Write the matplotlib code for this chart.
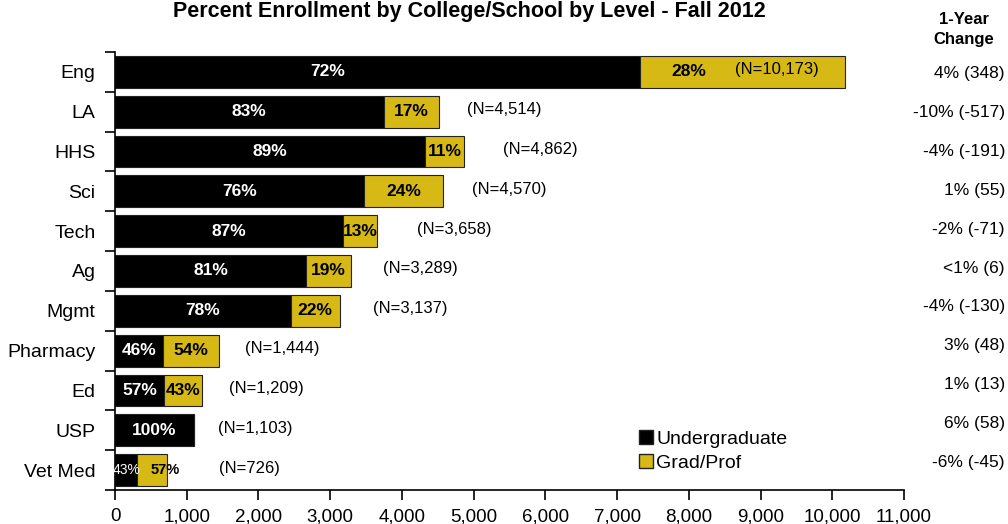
import matplotlib.pyplot as plt
import matplotlib.transforms as mtransforms
from matplotlib.lines import Line2D
import numpy as np

plt.rcParams['font.family'] = ['Liberation Sans', 'DejaVu Sans']

# data
colleges = ['Eng', 'LA', 'HHS', 'Sci', 'Tech', 'Ag', 'Mgmt', 'Pharmacy', 'Ed', 'USP', 'Vet Med']
totals = [10173, 4514, 4862, 4570, 3658, 3289, 3137, 1444, 1209, 1103, 726]
ug_pct = [72, 83, 89, 76, 87, 81, 78, 46, 57, 100, 43]
grad_pct = [28, 17, 11, 24, 13, 19, 22, 54, 43, 0, 57]
change = ['4% (348)', '-10% (-517)', '-4% (-191)', '1% (55)', '-2% (-71)', '<1% (6)',
          '-4% (-130)', '3% (48)', '1% (13)', '6% (58)', '-6% (-45)']

# where the (N=...) labels sit, relative to the bar end (data units)
n_shift = [-1526, 395, 550, 409, 554, 449, 461, 369, 381, 334, 724]

gold = '#D6B914'

totals = np.array(totals)
ug = totals * np.array(ug_pct) / 100
grad = totals - ug
y = np.arange(len(colleges))

fig = plt.figure(figsize=(10.08, 5.24), dpi=100)
ax = fig.add_axes([0.1141, 0.0649, 0.7827, 0.8359])

ax.barh(y, ug, height=0.8, color='black', edgecolor='#222222', linewidth=0.8)
ax.barh(y, grad, left=ug, height=0.8, color=gold, edgecolor='#222222', linewidth=0.8)

ax.set_xlim(0, 11000)
ax.set_ylim(10.5, -0.5)

right_col = mtransforms.blended_transform_factory(fig.transFigure, ax.transData)

for i in range(len(colleges)):
    small = totals[i] < 1000
    ux = ug[i] / 2
    if i == 0:
        ux -= 700
    ax.text(ux, y[i], f'{ug_pct[i]}%', color='white', ha='center', va='center',
            fontsize=10 if small else 12.5, fontweight='normal' if small else 'bold')
    if grad_pct[i] > 0:
        gx = ug[i] + grad[i] / 2
        if i == 0:
            gx -= 750
        if small:
            gx += 180
        ax.text(gx, y[i], f'{grad_pct[i]}%', color='black', ha='center', va='center',
                fontsize=10.5 if small else 12.5, fontweight='bold')
    ax.text(totals[i] + n_shift[i], y[i] - 0.05, f'(N={totals[i]:,})', ha='left', va='center',
            fontsize=12)
    ax.text(0.997, y[i] - 0.05 * (i / 2 - 1), change[i], transform=right_col,
            ha='right', va='center', fontsize=12.5)

ax.set_xticks(np.arange(0, 11001, 1000))
ax.set_xticklabels([f'{v:,}' for v in range(0, 11001, 1000)], fontsize=13.5)
ax.set_yticks(y)
ax.set_yticklabels(colleges, fontsize=14)
ax.set_yticks(np.arange(-0.5, 10.6, 1), minor=True)
ax.tick_params(axis='y', which='major', length=0, pad=14)
ax.tick_params(axis='y', which='minor', length=7, width=1.2, direction='out')
ax.tick_params(axis='x', length=7, width=1.2, direction='out', pad=6)
ax.spines['top'].set_visible(False)
ax.spines['right'].set_visible(False)
ax.spines['left'].set_linewidth(1.2)
ax.spines['bottom'].set_linewidth(1.2)

fig.text(0.466, 0.979, 'Percent Enrollment by College/School by Level - Fall 2012',
         ha='center', va='center', fontsize=15.5, fontweight='bold')
fig.text(0.956, 0.943, '1-Year\nChange', ha='center', va='center', fontsize=12,
         fontweight='bold', linespacing=1.4)

handles = [Line2D([], [], marker='s', linestyle='none', markersize=10,
                  markerfacecolor='black', markeredgecolor='#222222'),
           Line2D([], [], marker='s', linestyle='none', markersize=10,
                  markerfacecolor=gold, markeredgecolor='#222222')]
ax.legend(handles, ['Undergraduate', 'Grad/Prof'], loc='upper left',
          bbox_to_anchor=(0.622, 0.205), bbox_transform=fig.transFigure, frameon=False,
          fontsize=14, handlelength=0.6, handletextpad=0.2, labelspacing=0.35,
          borderpad=0.2)

fig.savefig('out.png', dpi=100)
